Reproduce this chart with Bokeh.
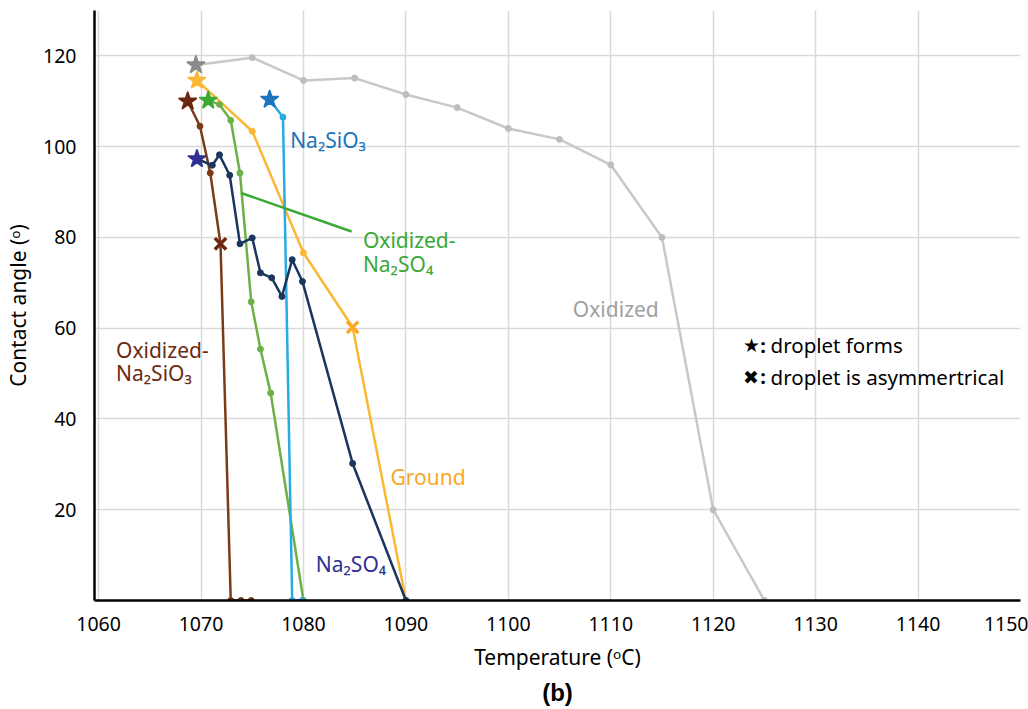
from bokeh.plotting import figure
from bokeh.models import ColumnDataSource, FixedTicker, Title
from bokeh.core.properties import value
from bokeh.embed import file_html
from bokeh.resources import INLINE

# ---- data ----
oxidized_x = [1069.5, 1075, 1080, 1085, 1090, 1095, 1100, 1105, 1110, 1115, 1120, 1125]
oxidized_y = [118, 119.6, 114.6, 115.1, 111.5, 108.6, 104, 101.6, 96, 80, 20, 0]

ground_x = [1069.6, 1075, 1080, 1084.8, 1090]
ground_y = [114.6, 103.4, 76.6, 60.2, 0]

ox_nasio3_x = [1068.7, 1069.9, 1070.9, 1071.9, 1072.9, 1073.9, 1074.9]
ox_nasio3_y = [110, 104.5, 94.2, 78.6, 0, 0, 0]

ox_naso4_x = [1070.7, 1071.8, 1072.9, 1073.8, 1074.9, 1075.8, 1076.8, 1080]
ox_naso4_y = [110.2, 109.3, 105.8, 94.2, 65.8, 55.4, 45.7, 0]

nasio3_x = [1076.7, 1078, 1078.9, 1079.9]
nasio3_y = [110.4, 106.5, 0, 0]

naso4_x = [1069.6, 1071.1, 1071.8, 1072.8, 1073.8, 1075, 1075.8, 1076.9, 1077.9, 1078.9, 1079.9, 1084.8, 1090]
naso4_y = [97.3, 95.9, 98.2, 93.7, 78.6, 79.9, 72.2, 71.1, 67, 75.1, 70.3, 30.2, 0]

# index of the "asymmetrical droplet" (x) marker per series, None if absent
ground_x_mark = 3
ox_nasio3_x_mark = 3

x_ticks = [1060, 1070, 1080, 1090, 1100, 1110, 1120, 1130, 1140, 1150]
y_ticks = [20, 40, 60, 80, 100, 120]

FONT = "Noto Sans"

p = figure(width=1028, height=709, output_backend="svg", toolbar_location=None,
           x_range=(1059.6, 1150), y_range=(0, 130),
           min_border_left=94, min_border_right=8, min_border_top=10, min_border_bottom=40)
p.outline_line_color = None
p.background_fill_color = "white"

# grid
p.xgrid.ticker = FixedTicker(ticks=x_ticks)
p.ygrid.ticker = FixedTicker(ticks=y_ticks)
for g in (p.xgrid, p.ygrid):
    g.grid_line_color = "#D9D9D9"
    g.grid_line_width = 1.5

# axes
p.xaxis.ticker = FixedTicker(ticks=x_ticks)
p.yaxis.ticker = FixedTicker(ticks=y_ticks)
for ax in (p.xaxis, p.yaxis):
    ax.axis_line_color = "black"
    ax.axis_line_width = 2.5
    ax.major_tick_line_color = None
    ax.minor_tick_line_color = None
    ax.major_label_text_font = FONT
    ax.major_label_text_font_size = "19.5px"
    ax.major_label_text_color = "black"
    ax.axis_label_text_font = FONT
    ax.axis_label_text_font_size = "21px"
    ax.axis_label_text_font_style = "normal"
    ax.axis_label_text_color = "black"
p.xaxis.axis_label = "Temperature (ᵒC)"
p.yaxis.axis_label = "Contact angle (ᵒ)"
p.xaxis.major_label_standoff = 10
p.xaxis.axis_label_standoff = 9
p.yaxis.major_label_standoff = 12
p.yaxis.axis_label_standoff = 8

title_b = Title(text="(b)", align="center", text_font="Liberation Sans",
                text_font_size="24px", text_font_style="bold", text_color="black")
title_b.standoff = 7
p.add_layout(title_b, "below")


def series(xs, ys, line_color, dot_color, star_color, x_mark=None, x_color=None, dot_size=6, lw=2.5):
    p.line(xs, ys, line_color=line_color, line_width=lw)
    markers, colors, sizes, widths = [], [], [], []
    for i in range(len(xs)):
        if i == 0:
            markers.append("star"); colors.append(star_color); sizes.append(19); widths.append(1.5)
        elif x_mark is not None and i == x_mark:
            markers.append("x"); colors.append(x_color); sizes.append(16); widths.append(3.5)
        else:
            markers.append("circle"); colors.append(dot_color); sizes.append(dot_size); widths.append(1)
    src = ColumnDataSource(dict(x=xs, y=ys, marker=markers, color=colors, size=sizes, lw=widths))
    p.scatter("x", "y", source=src, marker="marker", size="size",
              fill_color="color", line_color="color", line_width="lw")


series(oxidized_x, oxidized_y, "#C8C8C8", "#BDBDBD", "#8A8A8A", dot_size=6)
series(ground_x, ground_y, "#FBB732", "#FBB732", "#FBB732", ground_x_mark, "#F9A826")
series(ox_naso4_x, ox_naso4_y, "#6DB046", "#6DB046", "#3AAA35")
series(nasio3_x, nasio3_y, "#29ABE2", "#29ABE2", "#1C75BC")
series(ox_nasio3_x, ox_nasio3_y, "#7A3B18", "#7A3B18", "#6B2612", ox_nasio3_x_mark, "#6B2612")
series(naso4_x, naso4_y, "#1B365D", "#1B365D", "#2E3192")

# callout line for the Oxidized-Na2SO4 label
callout_x = [1073.9, 1084.7]
callout_y = [89.8, 81.3]
p.line(callout_x, callout_y, line_color="#3AAA35", line_width=2.5)

# series labels
labels = [
    (1078.7, 101.4, "Na₂SiO₃", "#1C75BC"),
    (1106.3, 64.3, "Oxidized", "#A0A0A0"),
    (1088.5, 27.2, "Ground", "#F9A826"),
    (1081.2, 8.0, "Na₂SO₄", "#2E3192"),
    (1061.7, 55.2, "Oxidized-", "#6B2A14"),
    (1061.7, 50.2, "Na₂SiO₃", "#6B2A14"),
    (1085.8, 79.4, "Oxidized-", "#3AAA35"),
    (1085.8, 74.2, "Na₂SO₄", "#3AAA35"),
]
for lx, ly, lt, lc in labels:
    p.text(x=[lx], y=[ly], text=[lt], text_color=lc, text_font=value(FONT),
           text_font_size="21px", text_baseline="alphabetic", text_align="left")

# marker key
key_sym = [(1122.9, 56.2, "★"), (1122.9, 49.3, "✖")]
key_txt = [(1124.6, 56.2, ":"), (1124.6, 49.3, ":")]
key_desc = [(1125.6, 56.2, "droplet forms"), (1125.6, 49.3, "droplet is asymmertrical")]
for kx, ky, kt in key_sym:
    p.text(x=[kx], y=[ky], text=[kt], text_color="black", text_font=value("DejaVu Sans"),
           text_font_size="19px", text_baseline="alphabetic", text_align="left")
for kx, ky, kt in key_txt:
    p.text(x=[kx], y=[ky], text=[kt], text_color="black", text_font=value(FONT),
           text_font_size="20px", text_font_style="bold", text_baseline="alphabetic", text_align="left")
for kx, ky, kt in key_desc:
    p.text(x=[kx], y=[ky], text=[kt], text_color="black", text_font=value(FONT),
           text_font_size="20.5px", text_baseline="alphabetic", text_align="left")

open("out.html", "w").write(file_html(p, INLINE))
